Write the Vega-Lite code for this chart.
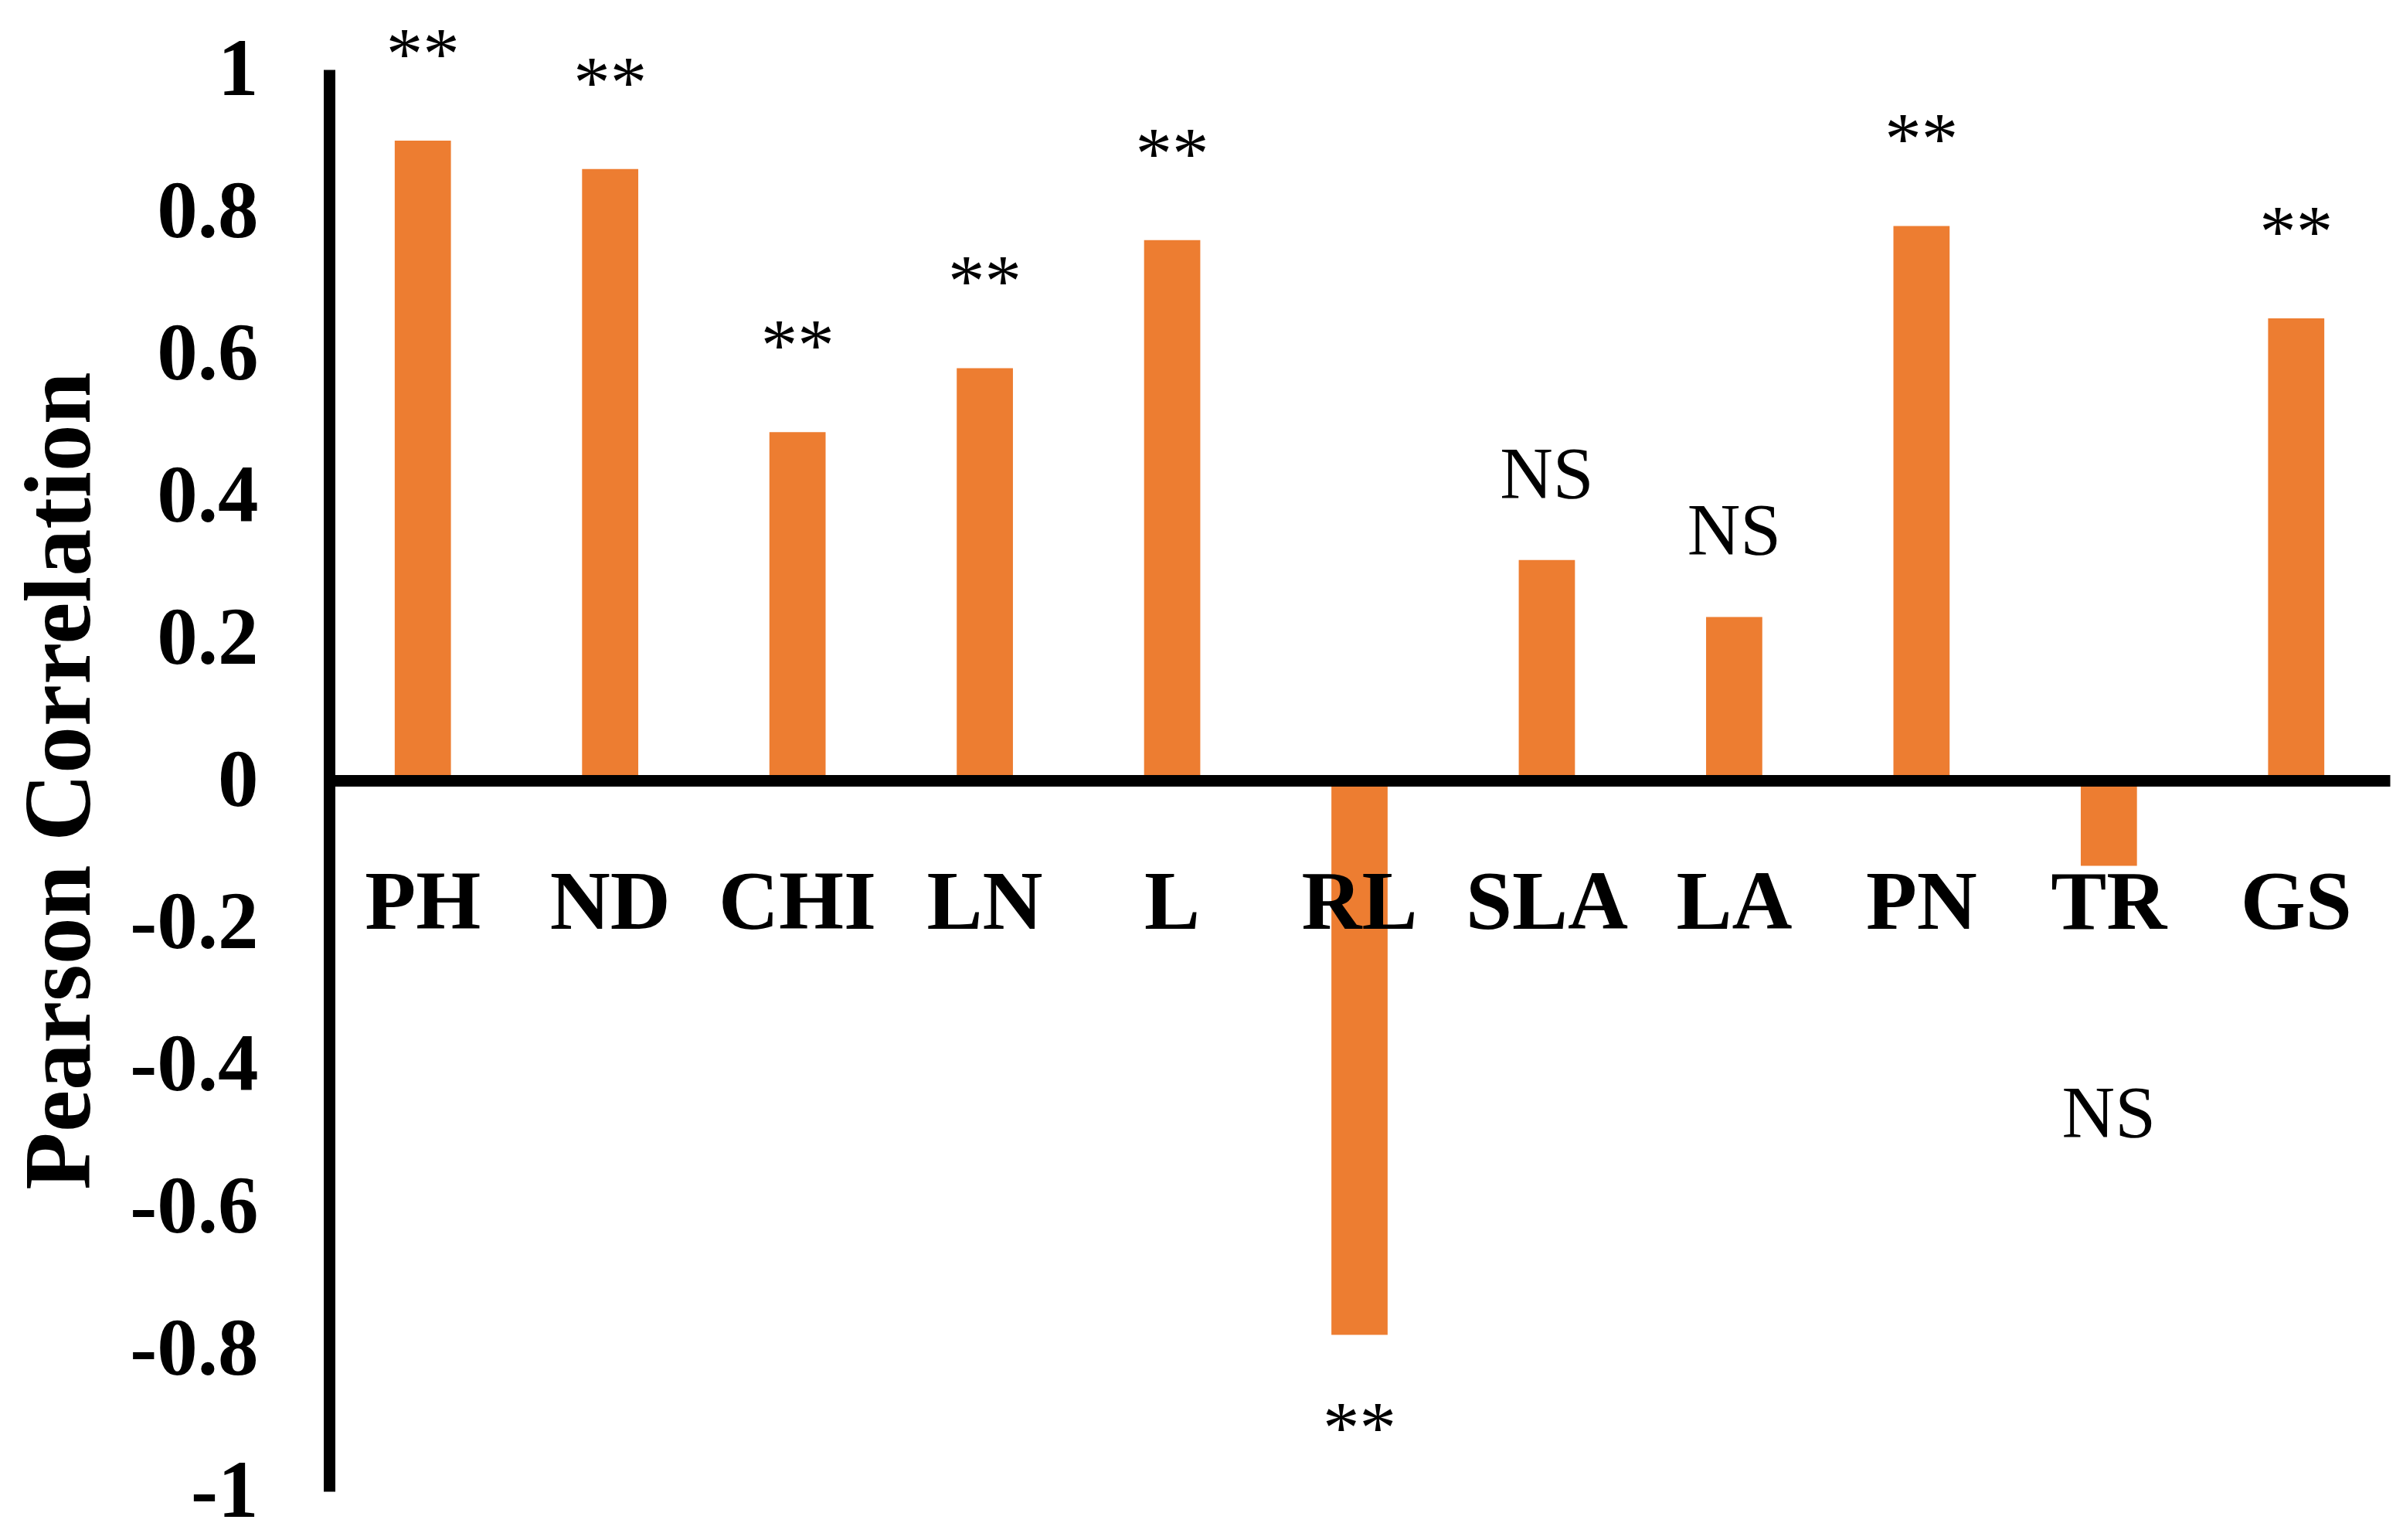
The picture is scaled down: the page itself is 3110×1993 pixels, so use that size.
{
  "$schema": "https://vega.github.io/schema/vega-lite/v6.json",
  "width": 2667,
  "height": 1840,
  "autosize": {"type": "none"},
  "padding": {"left": 426, "top": 90, "right": 17, "bottom": 63},
  "background": "white",
  "config": {"view": {"stroke": null}, "font": "Liberation Serif"},
  "data": {
    "values": [
      {"trait": "PH", "r": 0.90, "sig": "**"},
      {"trait": "ND", "r": 0.86, "sig": "**"},
      {"trait": "CHI", "r": 0.49, "sig": "**"},
      {"trait": "LN", "r": 0.58, "sig": "**"},
      {"trait": "L", "r": 0.76, "sig": "**"},
      {"trait": "RL", "r": -0.78, "sig": "**"},
      {"trait": "SLA", "r": 0.31, "sig": "NS"},
      {"trait": "LA", "r": 0.23, "sig": "NS"},
      {"trait": "PN", "r": 0.78, "sig": "**"},
      {"trait": "TR", "r": -0.12, "sig": "NS"},
      {"trait": "GS", "r": 0.65, "sig": "**"}
    ]
  },
  "encoding": {
    "x": {
      "field": "trait",
      "type": "nominal",
      "sort": null,
      "scale": {"paddingInner": 0.7, "paddingOuter": 0.35},
      "axis": {
        "title": null,
        "orient": "bottom",
        "offset": -920,
        "domainColor": "black",
        "domainWidth": 15,
        "ticks": false,
        "grid": false,
        "labelFont": "Liberation Serif",
        "labelFontWeight": "bold",
        "labelFontSize": 108,
        "labelColor": "black",
        "labelPadding": 106,
        "labelAngle": 0,
        "labelLimit": 0,
        "labelOverlap": false,
        "zindex": 1
      }
    },
    "y": {
      "field": "r",
      "type": "quantitative",
      "scale": {"domain": [-1, 1], "nice": false, "zero": false},
      "axis": {
        "title": "Pearson Correlation",
        "values": [-1, -0.8, -0.6, -0.4, -0.2, 0, 0.2, 0.4, 0.6, 0.8, 1],
        "labelExpr": "replace(format(datum.value, '.1~f'), '−', '-')",
        "ticks": false,
        "grid": false,
        "domainColor": "black",
        "domainWidth": 15,
        "labelFont": "Liberation Serif",
        "labelFontWeight": "bold",
        "labelFontSize": 105,
        "labelColor": "black",
        "labelPadding": 92,
        "labelOverlap": false,
        "labelFlush": false,
        "labelLimit": 0,
        "titleFont": "Liberation Serif",
        "titleFontWeight": "bold",
        "titleFontSize": 122,
        "titleColor": "black",
        "titleAngle": -90,
        "titleX": -311,
        "titleY": 920,
        "titleAlign": "center",
        "titleBaseline": "alphabetic",
        "titleLimit": 0,
        "zindex": 1
      }
    }
  },
  "layer": [
    {"mark": {"type": "bar", "color": "#ED7D31"}},
    {
      "transform": [{"filter": "datum.r > 0"}],
      "mark": {"type": "text", "font": "Liberation Serif", "fontSize": 95, "baseline": "alphabetic", "align": "center", "dy": -80, "color": "black"},
      "encoding": {"text": {"field": "sig"}}
    },
    {
      "transform": [{"filter": "datum.r < 0 && datum.sig == '**'"}],
      "mark": {"type": "text", "font": "Liberation Serif", "fontSize": 95, "baseline": "alphabetic", "align": "center", "dy": 152, "color": "black"},
      "encoding": {"text": {"field": "sig"}}
    },
    {
      "transform": [{"filter": "datum.r < 0 && datum.sig == 'NS'"}],
      "mark": {"type": "text", "font": "Liberation Serif", "fontSize": 95, "baseline": "alphabetic", "align": "center", "dy": 352, "color": "black"},
      "encoding": {"text": {"field": "sig"}}
    }
  ]
}
